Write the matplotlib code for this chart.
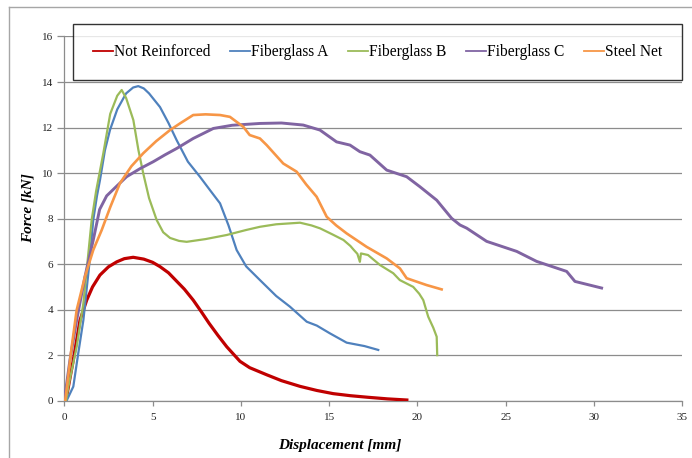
import matplotlib
matplotlib.use("Agg")
import matplotlib.pyplot as plt
from matplotlib.lines import Line2D

# curves: displacement [mm], force [kN]
not_reinf_x = [0.0, 0.1, 0.51, 0.89, 1.27, 1.6, 2.02, 2.5, 2.97, 3.4, 3.9, 4.5, 5.0, 5.42, 5.9, 6.3, 6.8, 7.3, 7.75,
               8.2, 8.7, 9.2, 9.95, 10.5, 11.46, 12.3, 13.35, 14.3, 15.23, 16.2, 17.2, 18.3, 19.4]
not_reinf_y = [0.0, 0.05, 1.79, 3.54, 4.42, 5.0, 5.52, 5.88, 6.1, 6.24, 6.3, 6.22, 6.08, 5.89, 5.62, 5.3, 4.9, 4.42, 3.92,
               3.4, 2.87, 2.37, 1.73, 1.45, 1.14, 0.88, 0.63, 0.45, 0.31, 0.22, 0.15, 0.08, 0.03]

fg_a_x = [0.13, 0.51, 0.79, 1.08, 1.42, 1.64, 1.85, 2.02, 2.3, 2.59, 3.0, 3.5, 3.9, 4.19, 4.5, 4.8, 5.42, 5.9, 6.36,
          7.0, 7.68, 8.3, 8.82, 9.3, 9.76, 10.3, 11.08, 12.0, 12.78, 13.73, 14.3, 15.04, 15.99, 17.0, 17.78]
fg_a_y = [0.0, 0.62, 2.08, 3.54, 6.03, 7.94, 9.0, 9.69, 11.0, 11.9, 12.8, 13.5, 13.76, 13.82, 13.72, 13.5, 12.9, 12.2, 11.45,
          10.5, 9.84, 9.2, 8.67, 7.7, 6.62, 5.9, 5.3, 4.6, 4.13, 3.47, 3.3, 2.96, 2.55, 2.4, 2.23]

fg_b_x = [0.1, 0.23, 0.7, 1.08, 1.55, 1.8, 2.21, 2.6, 3.0, 3.25, 3.5, 3.91, 4.2, 4.47, 4.8, 5.23, 5.6, 5.99,
          6.5, 6.93, 8.0, 9.2, 10.3, 11.08, 12.0, 13.35, 14.0, 14.49, 15.2, 15.81, 16.2, 16.4, 16.6, 16.74,
          16.8, 17.2, 17.88, 18.63, 19.0, 19.76, 20.1, 20.33, 20.61, 20.9, 21.09, 21.12]
fg_b_y = [0.0, 0.62, 2.37, 4.28, 7.94, 9.2, 10.87, 12.6, 13.4, 13.65, 13.3, 12.33, 11.0, 9.99, 8.9, 7.94, 7.4, 7.15,
          7.02, 6.98, 7.1, 7.28, 7.5, 7.64, 7.75, 7.82, 7.7, 7.57, 7.3, 7.06, 6.8, 6.62, 6.45, 6.1,
          6.47, 6.4, 5.96, 5.6, 5.3, 5.0, 4.7, 4.42, 3.69, 3.2, 2.81, 2.0]

fg_c_x = [0.0, 0.32, 0.7, 1.17, 1.64, 2.0, 2.4, 3.0, 3.53, 4.3, 5.04, 5.7, 6.36, 7.3, 8.44, 9.5, 11.08, 12.3,
          13.53, 14.48, 15.42, 16.18, 16.74, 17.31, 18.26, 19.39, 20.14, 21.09, 21.94, 22.41, 22.79, 23.92,
          25.62, 26.75, 28.45, 28.92, 30.43]
fg_c_y = [0.0, 1.79, 3.54, 5.45, 7.06, 8.4, 9.0, 9.45, 9.84, 10.2, 10.5, 10.8, 11.08, 11.52, 11.96, 12.1, 12.18, 12.2,
          12.11, 11.89, 11.37, 11.23, 10.94, 10.79, 10.13, 9.84, 9.4, 8.81, 8.01, 7.72, 7.58, 7.0,
          6.56, 6.12, 5.68, 5.24, 4.95]

steel_x = [0.05, 0.15, 0.42, 0.7, 1.17, 1.64, 2.12, 2.6, 3.15, 3.8, 4.47, 5.2, 5.99, 6.55, 7.3, 8.0, 8.82, 9.38,
           10.14, 10.5, 11.08, 11.46, 12.4, 13.16, 13.7, 14.29, 14.86, 15.4, 15.99, 17.12, 18.26, 19.01, 19.39,
           20.52, 21.37]
steel_y = [0.0, 0.62, 2.37, 3.98, 5.45, 6.62, 7.5, 8.5, 9.55, 10.3, 10.87, 11.4, 11.89, 12.18, 12.55, 12.58, 12.55, 12.47,
           12.03, 11.67, 11.52, 11.23, 10.42, 10.06, 9.5, 8.96, 8.08, 7.7, 7.35, 6.76, 6.25, 5.81, 5.38,
           5.08, 4.89]

names = ["Not Reinforced", "Fiberglass A", "Fiberglass B", "Fiberglass C", "Steel Net"]
colors = ["#C00000", "#4F81BD", "#9BBB59", "#8064A2", "#F79646"]
widths = [2.3, 1.6, 1.6, 2.1, 1.9]
xs = [not_reinf_x, fg_a_x, fg_b_x, fg_c_x, steel_x]
ys = [not_reinf_y, fg_a_y, fg_b_y, fg_c_y, steel_y]

x_ticks = [0, 5, 10, 15, 20, 25, 30, 35]
y_ticks = [0, 2, 4, 6, 8, 10, 12, 14, 16]

plt.rcParams['font.family'] = ['Liberation Serif', 'DejaVu Serif']

fig = plt.figure(figsize=(6.92, 4.58), dpi=100)
ax = fig.add_axes([64.3 / 692, 1 - 400.7 / 458, (682.3 - 64.3) / 692, (400.7 - 36.5) / 458])

grid_col = "#8c8c8c"
for i in range(len(names)):
    ax.plot(xs[i], ys[i], color=colors[i], lw=widths[i], solid_joinstyle='round', zorder=3)

ax.set_xlim(0, 35)
ax.set_ylim(0, 16)
ax.set_xticks(x_ticks)
ax.set_yticks(y_ticks)
ax.yaxis.grid(True, color=grid_col, lw=0.9)
ax.set_axisbelow(True)
for s in ["top", "right"]:
    ax.spines[s].set_visible(False)
for s in ["left", "bottom"]:
    ax.spines[s].set_color(grid_col)
    ax.spines[s].set_linewidth(0.9)
ax.tick_params(axis='y', length=5, width=0.9, color=grid_col, labelsize=8, pad=3, labelcolor="#222222")
ax.tick_params(axis='x', length=3.5, width=0.9, color=grid_col, labelsize=8, pad=5, labelcolor="#222222")

fig.text(28 / 692, 1 - 208 / 458, "Force [kN]", rotation=90, ha='center', va='center',
         fontsize=11, fontweight='bold', fontstyle='italic')
fig.text(340 / 692, 1 - 445 / 458, "Displacement [mm]", ha='center', va='center',
         fontsize=11, fontweight='bold', fontstyle='italic')

# legend
handles = [Line2D([], [], color=c, lw=1.3) for c in colors]
leg = fig.legend(handles, names, loc='center', bbox_to_anchor=(377.5 / 692, 1 - 52 / 458),
                 ncol=5, fontsize=11.2, handlelength=1.3, handletextpad=0.05, columnspacing=1.25,
                 borderpad=1.3, frameon=True, fancybox=False)
leg.get_frame().set_edgecolor("black")
leg.get_frame().set_linewidth(1.0)

# outer chart frame
fig.add_artist(Line2D([9 / 692, 1], [1 - 7 / 458, 1 - 7 / 458], color="#a6a6a6", lw=1.0))
fig.add_artist(Line2D([9 / 692, 9 / 692], [0, 1 - 7 / 458], color="#a6a6a6", lw=1.0))

fig.savefig("out.png", dpi=100)
